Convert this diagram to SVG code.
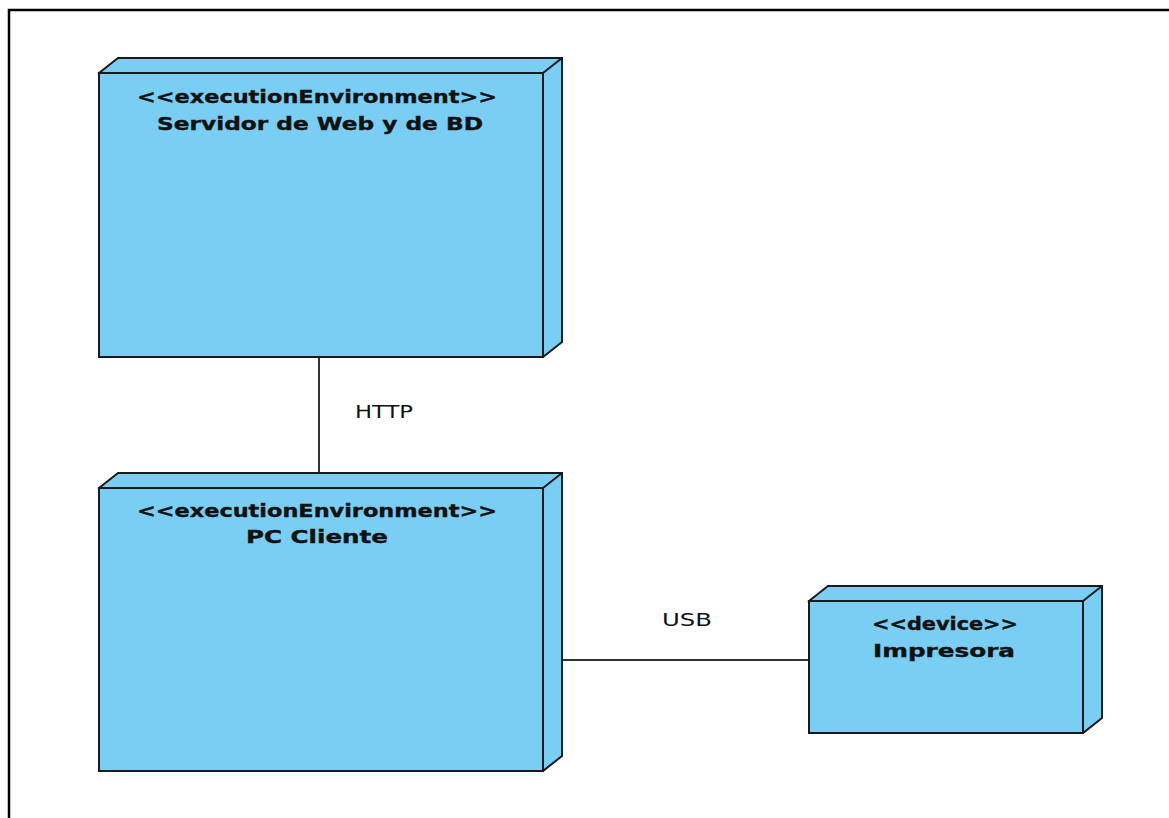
<svg xmlns="http://www.w3.org/2000/svg" width="1169" height="818" viewBox="0 0 1169 818">
<style>
.face{fill:#7acef4;stroke:#1a1a1a;stroke-width:2}
.conn{stroke:#333;stroke-width:2;fill:none}
.st{font-family:"DejaVu Sans",Verdana,sans-serif;font-weight:bold;font-size:18.5px;fill:#111;stroke:#111;stroke-width:0.4;text-anchor:middle}
.lbl{font-family:"DejaVu Sans",Verdana,sans-serif;font-size:17px;fill:#111;text-anchor:middle}
</style>
<rect x="0" y="0" width="1169" height="818" fill="#fff"/>
<path d="M9 830 V10 H1180" fill="none" stroke="#000" stroke-width="2.5"/>
<g id="connectors">
<line class="conn" x1="319" y1="357" x2="319" y2="473"/>
<text class="lbl" x="384" y="418" textLength="58" lengthAdjust="spacingAndGlyphs">HTTP</text>
<line class="conn" x1="543" y1="660" x2="809" y2="660"/>
<text class="lbl" x="687" y="626" textLength="50" lengthAdjust="spacingAndGlyphs">USB</text>
</g>
<g id="servidor">
<path class="face" d="M99 73 L118 58 H562 V342 L543 357 Z"/>
<path class="face" d="M543 73 L562 58"/>
<rect class="face" x="99" y="73" width="444" height="284"/>
<text class="st" x="317" y="103" textLength="360" lengthAdjust="spacingAndGlyphs">&lt;&lt;executionEnvironment&gt;&gt;</text>
<text class="st" x="320" y="130" textLength="326" lengthAdjust="spacingAndGlyphs">Servidor de Web y de BD</text>
</g>
<g id="pccliente">
<path class="face" d="M99 488 L118 473 H562 V756 L543 771 Z"/>
<path class="face" d="M543 488 L562 473"/>
<rect class="face" x="99" y="488" width="444" height="283"/>
<text class="st" x="317" y="517" textLength="360" lengthAdjust="spacingAndGlyphs">&lt;&lt;executionEnvironment&gt;&gt;</text>
<text class="st" x="317" y="543" textLength="142" lengthAdjust="spacingAndGlyphs">PC Cliente</text>
</g>
<g id="impresora">
<path class="face" d="M809 601 L828 586 H1102 V718 L1083 733 Z"/>
<path class="face" d="M1083 601 L1102 586"/>
<rect class="face" x="809" y="601" width="274" height="132"/>
<text class="st" x="945" y="630" textLength="146" lengthAdjust="spacingAndGlyphs">&lt;&lt;device&gt;&gt;</text>
<text class="st" x="944" y="657" textLength="142" lengthAdjust="spacingAndGlyphs">Impresora</text>
</g>
</svg>
